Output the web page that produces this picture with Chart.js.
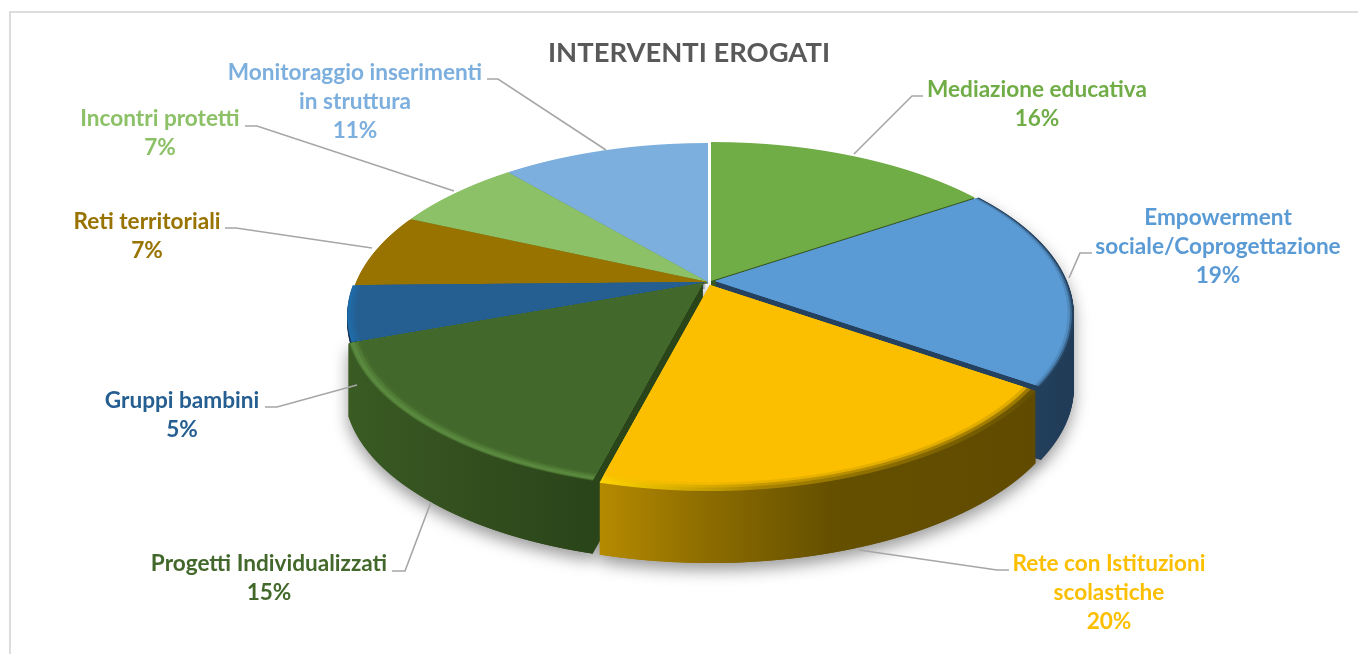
<!DOCTYPE html>
<html><head><meta charset="utf-8">
<script src="https://cdn.jsdelivr.net/npm/chart.js@4"></script>
<style>
html,body{margin:0;padding:0;background:#fff;overflow:hidden}
#wrap{position:absolute;left:0;top:0;width:1358px;height:654px}
#frame{position:absolute;left:9px;top:11px;width:1400px;height:700px;border-left:2px solid #dcdcdc;border-top:2px solid #dcdcdc}
canvas{position:absolute;left:0;top:0}
</style></head><body>
<div id="wrap"><div id="frame"></div><canvas id="c" width="1358" height="654"></canvas></div>
<script>
const categories = [["Mediazione educativa"],["Empowerment","sociale/Coprogettazione"],["Rete con Istituzioni","scolastiche"],["Progetti Individualizzati"],["Gruppi bambini"],["Reti territoriali"],["Incontri protetti"],["Monitoraggio inserimenti","in struttura"]];
const values = [15.6,19,19.5,15.4,5.2,7,7,11.3];
const sliceColors = ["#70AD47","#5B9BD5","#FBBF00","#43682B","#255E91","#997300","#8CC168","#7CAFDD"];

// Perspective projection of the pie on the page
const APEX = {x:709,y:282}, KX = 352, RY_BACK = 139, RY_FRONT = 206;
const P_A = (RY_FRONT-RY_BACK)/(RY_FRONT+RY_BACK), P_B = 2*RY_FRONT*RY_BACK/(RY_FRONT+RY_BACK);
const wallDepth = [8,73,72,73,6,2,2,2];
const sliceShift = [[2,-1],[6,-1],[1,3],[-6,1],[-3,0],[-1,0],[-1,0],[-1,0]];
// label centre, first line centre, leader polyline
const labelLayout = [
 {x:1037,y:90,leader:[[923,96],[912,96],[854,154]]},
 {x:1218,y:218,leader:[[1092,253],[1080,253],[1069,278]]},
 {x:1109,y:564,leader:[[1009,570],[997,570],[859,550]]},
 {x:269,y:564,leader:[[392,571],[405,571],[431,502]]},
 {x:182,y:401,leader:[[265,407],[277,407],[357,385]]},
 {x:147,y:222,leader:[[225,228],[236,228],[372,248]]},
 {x:160,y:119,leader:[[245,126],[257,126],[454,191]]},
 {x:355,y:73,leader:[[487,79],[498,79],[606,150]]}
];
const wallStops = [
 [[300,"#38581F"],[1100,"#38581F"]],
 [[1000,"#24425F"],[1080,"#1F3A55"]],
 [[600,"#B58A00"],[700,"#8F6E00"],[830,"#655000"],[1040,"#604A00"]],
 [[345,"#3A5C24"],[450,"#34511F"],[590,"#2B451A"]],
 [[300,"#12304E"],[800,"#12304E"]],
 [[300,"#6B5000"],[800,"#6B5000"]],
 [[300,"#5E8A3C"],[800,"#5E8A3C"]],
 [[300,"#4F7FAD"],[800,"#4F7FAD"]]
];
// [inset, fill (colour or stops), alpha]
const rims = {
 1:[[0,"#24425F",1],[1.5,"#5B9BD5",0.45],[3,"#5B9BD5",0.7],[5,"#5B9BD5",1]],
 2:[[0,[[600,"#FFD400"],[760,"#A88400"],[1040,"#655000"]],1],[4,"#FBBF00",0.35],[7,"#FBBF00",0.7],[10,"#FBBF00",1]],
 3:[[0,"#3F6328",1],[1,"#56843B",1],[2.5,"#5A8A3F",1],[4.5,"#43682B",0.4],[7,"#43682B",0.7],[9,"#43682B",1]],
 4:[[0,"#1F6BA8",1],[3,"#255E91",0.5],[6,"#255E91",1]]
};
const depthOrder = [7,6,5,0,4,1,3,2];

const pie3d = {
 id:'pie3d',
 beforeDatasetsDraw(chart){
  const ctx = chart.ctx, arcs = chart.getDatasetMeta(0).data;
  const e0 = arcs[0], cx = e0.x, cy = e0.y, r = e0.outerRadius;
  const W = chart.width, H = chart.height;
  const off = () => { const c=document.createElement('canvas'); c.width=W; c.height=H; return c; };
  const mask = off(), mctx = mask.getContext('2d');
  const tmp = off(), tctx = tmp.getContext('2d');

  // Library arc drawn row by row through the projection
  const renderMask = (el, inset) => {
    const R = el.outerRadius; el.outerRadius = R-inset;
    mctx.setTransform(1,0,0,1,0,0); mctx.clearRect(0,0,W,H);
    for(let row=APEX.y-150; row<APEX.y+225; row++){
      const yRel = row+0.5-APEX.y, den = P_B+P_A*yRel, v = yRel/den;
      const scX = KX/r*den/P_B, scY = den*den/(P_B*r);
      mctx.save();
      mctx.beginPath(); mctx.rect(0,row,W,1); mctx.clip();
      mctx.setTransform(scX,0,0,scY,APEX.x-scX*cx,row+0.5-scY*(cy+v*r));
      el.draw(mctx);
      mctx.restore();
    }
    el.outerRadius = R;
  };
  const fillOf = (c,fill) => {
    if(typeof fill==='string') return fill;
    const a=fill[0][0], b=fill[fill.length-1][0];
    const g=c.createLinearGradient(a,0,b,0);
    fill.forEach(([p,col])=>g.addColorStop((p-a)/(b-a),col));
    return g;
  };
  const colorize = (canvas,fill) => {
    const c=canvas.getContext('2d');
    c.save(); c.setTransform(1,0,0,1,0,0);
    c.globalCompositeOperation='source-in';
    c.fillStyle=fillOf(c,fill); c.fillRect(0,0,W,H);
    c.restore();
  };
  // walls
  const walls = arcs.map((el,i)=>{
    renderMask(el,0);
    const w=off(), c=w.getContext('2d');
    for(let d=wallDepth[i];d>=1;d--) c.drawImage(mask,0,d);
    colorize(w,wallStops[i]);
    return w;
  });
  ctx.save();
  ctx.shadowColor='rgba(0,0,0,0.4)'; ctx.shadowBlur=16; ctx.shadowOffsetY=7;
  [1,3,2].forEach(i=>ctx.drawImage(walls[i],sliceShift[i][0],sliceShift[i][1]));
  ctx.restore();
  depthOrder.forEach(i=>ctx.drawImage(walls[i],sliceShift[i][0],sliceShift[i][1]));
  // top faces
  depthOrder.forEach(i=>{
    const layers = rims[i] || [[0,sliceColors[i],1]];
    layers.forEach(([inset,fill,alpha])=>{
      renderMask(arcs[i],inset);
      tctx.setTransform(1,0,0,1,0,0); tctx.clearRect(0,0,W,H);
      tctx.drawImage(mask,0,0);
      colorize(tmp,fill);
      ctx.save(); ctx.globalAlpha=alpha; ctx.drawImage(tmp,sliceShift[i][0],sliceShift[i][1]); ctx.restore();
    });
  });
  return false;
 },
 afterDraw(chart){
  const ctx = chart.ctx;
  ctx.save();
  ctx.font = 'bold 22.6px Lato'; ctx.textAlign='center'; ctx.textBaseline='middle';
  labelLayout.forEach((l,i)=>{
    ctx.strokeStyle='#A6A6A6'; ctx.lineWidth=1.6; ctx.beginPath();
    l.leader.forEach(([x,y],k)=>k?ctx.lineTo(x,y):ctx.moveTo(x,y)); ctx.stroke();
    ctx.fillStyle=sliceColors[i];
    const lines = categories[i].concat([Math.round(values[i])+"%"]);
    lines.forEach((t,k)=>ctx.fillText(t,l.x,l.y+k*28.7));
  });
  ctx.restore();
 }
};

new Chart(document.getElementById('c'),{
 type:'pie',
 data:{labels:categories.map(c=>c.join(" ")),datasets:[{data:values,backgroundColor:sliceColors,borderWidth:0}]},
 options:{
  responsive:false,animation:false,
  layout:{padding:{left:20}},
  plugins:{
   legend:{display:false},tooltip:{enabled:false},
   title:{display:true,text:"INTERVENTI EROGATI",color:"#595959",font:{family:"Lato",size:27.4,weight:"bold"},padding:{top:37,bottom:0}}
  }
 },
 plugins:[pie3d]
});
</script>
</body></html>
